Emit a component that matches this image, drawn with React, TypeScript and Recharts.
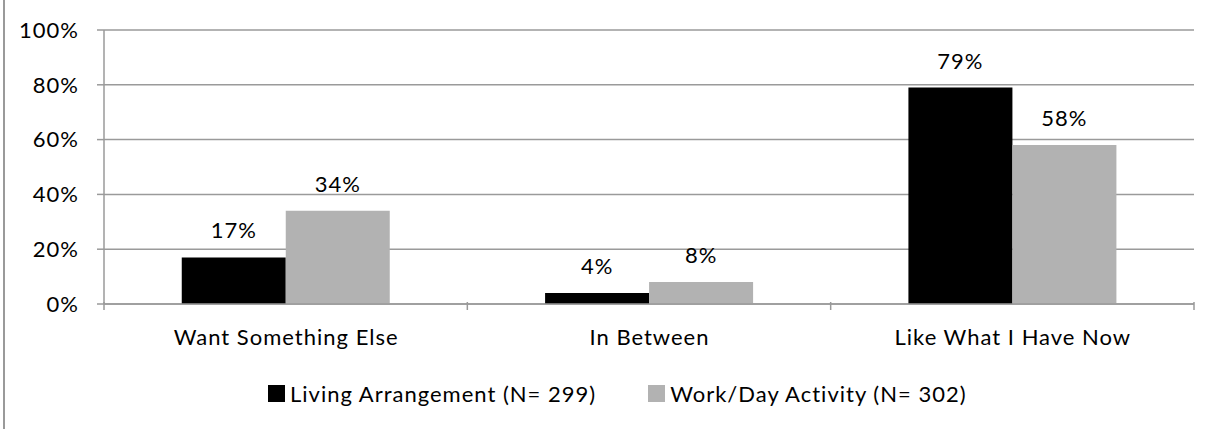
import React from "react";
import {
  BarChart,
  Bar,
  XAxis,
  YAxis,
  CartesianGrid,
  Legend,
  LabelList,
} from "recharts";

const categories = ["Want Something Else", "In Between", "Like What I Have Now"];
const livingArrangement = [17, 4, 79];
const workDayActivity = [34, 8, 58];
const yTicks = [0, 20, 40, 60, 80, 100];
const seriesNames = ["Living Arrangement (N= 299)", "Work/Day Activity (N= 302)"];

const W = 1210;
const H = 429;
const MARGIN = { top: 30, right: 16, bottom: 22, left: 0 };
const Y_AXIS_W = 104;
const FONT = "Lato, 'Open Sans', sans-serif";
const FS = 22;
const LS = 1;
const GRID = "#9a9a9a";

const chartData = categories.map((name, i) => ({
  name,
  living: livingArrangement[i],
  work: workDayActivity[i],
}));

const plotWidth = W - MARGIN.left - MARGIN.right - Y_AXIS_W;
const bandWidth = plotWidth / categories.length;

// x axis tick: label at centre, tick marks at the category boundaries
const CategoryTick = (props: any) => {
  const { x, y, payload, index } = props;
  const top = y - 8;
  return (
    <g>
      <line x1={x - bandWidth / 2} x2={x - bandWidth / 2} y1={top - 2} y2={top + 6} stroke={GRID} strokeWidth={1.5} />
      {index === categories.length - 1 && (
        <line x1={x + bandWidth / 2} x2={x + bandWidth / 2} y1={top - 2} y2={top + 6} stroke={GRID} strokeWidth={1.5} />
      )}
      <text
        x={x + LS / 2}
        y={top + 35}
        textAnchor="middle"
        dominantBaseline="middle"
        fontSize={FS}
        fill="#000"
        fontFamily={FONT}
        letterSpacing={LS}
      >
        {payload.value}
      </text>
    </g>
  );
};

const renderLegend = () => (
  <div
    style={{
      display: "flex",
      justifyContent: "flex-start",
      paddingLeft: 268,
      fontFamily: FONT,
      fontSize: FS,
      letterSpacing: LS,
      color: "#000",
    }}
  >
    {[
      { name: seriesNames[0], color: "#000000" },
      { name: seriesNames[1], color: "#b2b2b2" },
    ].map((s, i) => (
      <div key={s.name} style={{ display: "flex", alignItems: "center", marginRight: i === 0 ? 52 : 0 }}>
        <span style={{ width: 17, height: 17, background: s.color, display: "inline-block", marginRight: 5 }} />
        <span>{s.name}</span>
      </div>
    ))}
  </div>
);

export default function App() {
  return (
    <div style={{ position: "absolute", left: 0, top: 0, width: W, height: H, background: "#fff" }}>
      <div style={{ position: "absolute", left: 3, top: 0, width: 2, height: H, background: "#9a9a9a" }} />
      <BarChart
        width={W}
        height={H}
        data={chartData}
        margin={MARGIN}
        barGap={0}
        barCategoryGap="21.4%"
      >
        <CartesianGrid vertical={false} stroke={GRID} strokeWidth={1.5} />
        <XAxis
          dataKey="name"
          height={76}
          axisLine={{ stroke: GRID, strokeWidth: 1.5 }}
          tickLine={false}
          tick={<CategoryTick />}
          interval={0}
        />
        <YAxis
          width={Y_AXIS_W}
          domain={[0, 100]}
          ticks={yTicks}
          tickFormatter={(v: number) => `${v}%`}
          axisLine={{ stroke: GRID, strokeWidth: 1.5 }}
          tickLine={{ stroke: GRID, strokeWidth: 1.5 }}
          tickSize={7}
          tickMargin={18}
          tick={{ fontSize: FS, fill: "#000", fontFamily: FONT, letterSpacing: LS }}
        />
        <Legend verticalAlign="bottom" content={renderLegend} wrapperStyle={{ bottom: 22, left: 0, width: W }} />
        <Bar dataKey="living" name={seriesNames[0]} fill="#000000" isAnimationActive={false}>
          <LabelList
            dataKey="living"
            position="top"
            offset={19}
            formatter={(v: any) => `${v}%`}
            style={{ fontSize: FS, fill: "#000", fontFamily: FONT, letterSpacing: LS }}
          />
        </Bar>
        <Bar dataKey="work" name={seriesNames[1]} fill="#b2b2b2" isAnimationActive={false}>
          <LabelList
            dataKey="work"
            position="top"
            offset={19}
            formatter={(v: any) => `${v}%`}
            style={{ fontSize: FS, fill: "#000", fontFamily: FONT, letterSpacing: LS }}
          />
        </Bar>
      </BarChart>
    </div>
  );
}
